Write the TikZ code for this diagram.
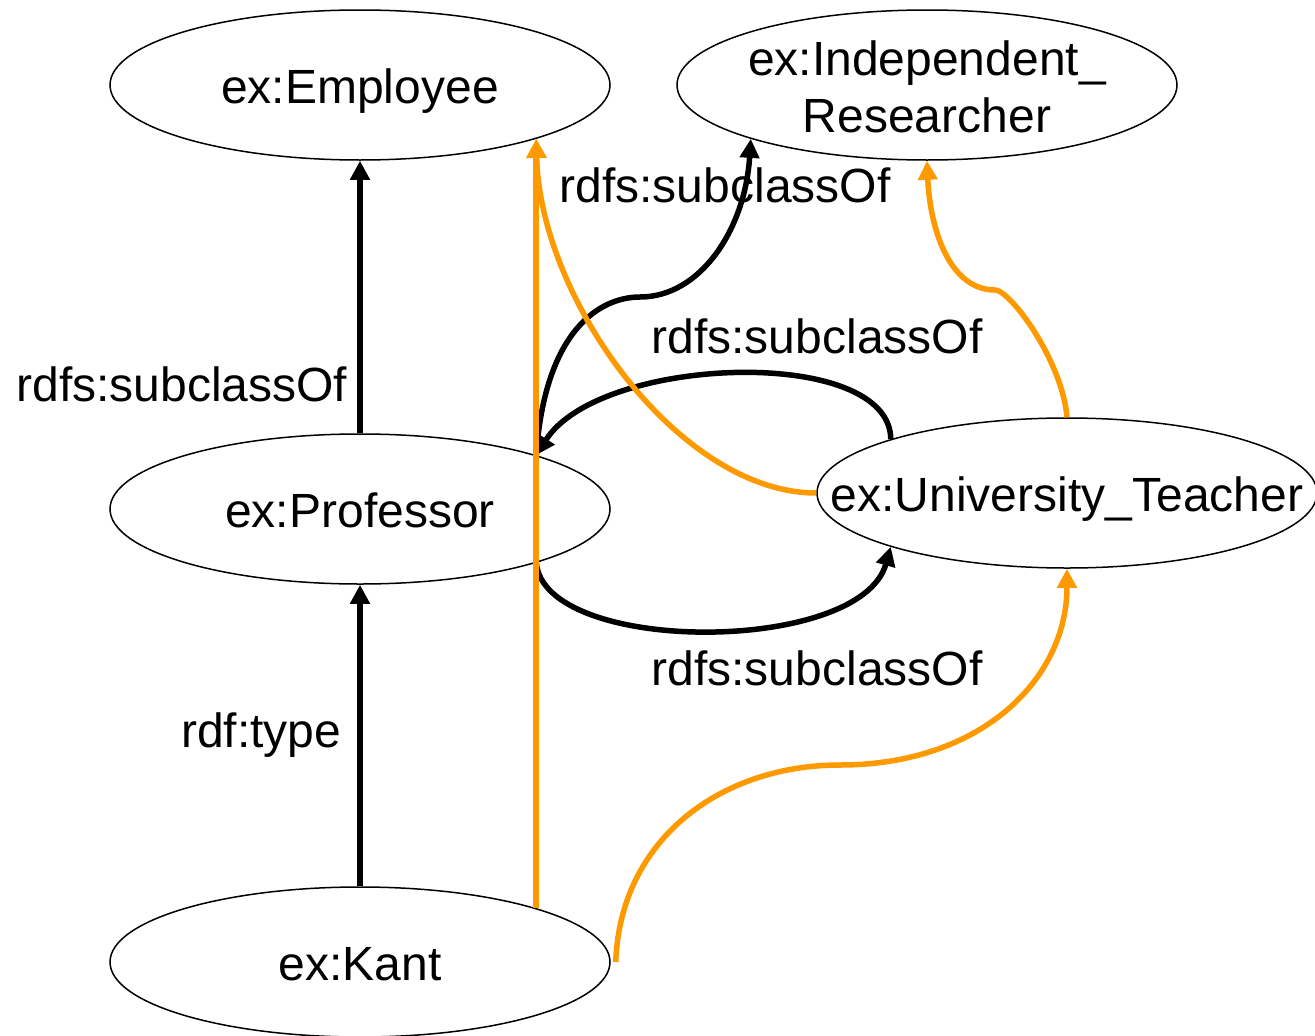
\documentclass[tikz,border=0pt]{standalone}
\usepackage{fontspec}
\setmainfont{Liberation Sans}
\usetikzlibrary{shapes.geometric}
\usetikzlibrary{arrows.meta}
\definecolor{rdforange}{RGB}{255,153,0}
\newcommand{\clsname}[1]{\makebox[0pt]{\raisebox{-18pt}[0pt][0pt]{#1}}}

\begin{document}
\begin{tikzpicture}[x=1pt,y=-1pt]
  \fontsize{48}{57}\selectfont
  \useasboundingbox (0,0) rectangle (1315,1036);
  \tikzstyle{every node}=[ellipse,draw,line width=1.5pt,inner sep=0pt,minimum width=500pt,minimum height=150pt]
  \node (emp)  at (360,85)   {\clsname{ex:Employee}};
  \node (ir)   at (927,85)   {\makebox[0pt]{\raisebox{10pt}[0pt][0pt]{\begin{tabular}[t]{@{}c@{}}ex:Independent\_\\Researcher\end{tabular}}}};
  \node (prof) at (360,509)  {\clsname{ex:Professor}};
  \node (ut)   at (1067,493) {\clsname{ex:University\_Teacher}};
  \node (kant) at (360,962)  {\clsname{ex:Kant}};

%% draw connections
  \tikzstyle{every node}=[draw=none]
  \tikzstyle{asserted}=[line width=5.5pt,-{Triangle[length=19pt,width=19pt]}]
  \tikzstyle{inferred}=[asserted,color=rdforange]

%% asserted (black) connections
  \foreach \from/\to/\txt/\p/\dx in {prof/emp/rdfs:subclassOf/0.18/6pt, kant/prof/rdf:type/0.5/0pt}
    \draw[asserted] (\from.north) -- (\to.south) node[pos=\p,anchor=east,xshift=\dx] (lbl-\from) {\txt};
  \draw[asserted] (prof.17) .. controls (545,330) and (600,297) .. (640,297)
                            .. controls (700,297) and (745,230) .. (ir.197);
  \draw[asserted] (ut.163) .. controls (890,345) and (600,355) .. (prof.17);
  \draw[asserted] (prof.-17) .. controls (545,655) and (860,655) .. (ut.197);
  \node (lbl-ir)  at (725,185) {rdfs:subclassOf};
  \node (lbl-ut1) at (817,336) {rdfs:subclassOf};
  \node (lbl-ut2) at (817,668) {rdfs:subclassOf};

%% inferred (orange) connections
  \draw[inferred] (kant.17) -- (emp.-17);
  \draw[inferred] (ut.west) .. controls (680,493) and (540,300) .. (emp.-17);
  \draw[inferred] (ut.north) .. controls (1062,360) and (1010,290) .. (995,290)
                             .. controls (950,290) and (930,230) .. (ir.south);
  \draw[inferred] ([xshift=5pt]kant.east) .. controls (620,840) and (720,765) .. (840,765)
                                          .. controls (980,765) and (1067,680) .. (ut.south);
\end{tikzpicture}
\end{document}
